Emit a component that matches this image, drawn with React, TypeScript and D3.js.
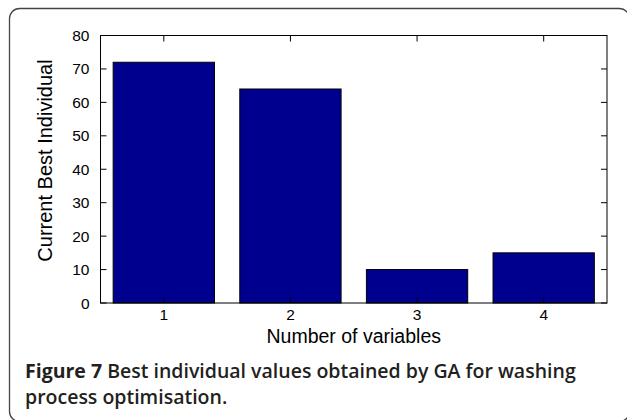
import React from "react";
import * as d3 from "d3";

const categories = [1, 2, 3, 4];
const values = [72, 64, 10, 15];
const yTicks = [0, 10, 20, 30, 40, 50, 60, 70, 80];

export default function App() {
  const W = 627, H = 420;
  const left = 100.5, right = 607, top = 35.5, bottom = 303;
  const x = d3.scaleLinear().domain([0.5, 4.5]).range([left, right]);
  const y = d3.scaleLinear().domain([0, 80]).range([bottom, top]);
  const bw = x(1.4) - x(0.6);
  const tl = 6;
  const axisFont = "'Liberation Sans', Arial, Helvetica, sans-serif";
  const capFont = "'Open Sans', 'Noto Sans', sans-serif";
  return (
    <svg width={W} height={H} style={{ position: "absolute", left: 0, top: 0, background: "#fff" }}>
      <rect x={9.5} y={8.5} width={620} height={413} rx={10} ry={10} fill="#fff" stroke="#444" strokeWidth={1.3} />
      {categories.map((c, i) => (
        <rect key={c} x={x(c) - bw / 2} y={y(values[i])} width={bw} height={y(0) - y(values[i])}
          fill="#00008F" stroke="#000" strokeWidth={1} />
      ))}
      <rect x={left} y={top} width={right - left} height={bottom - top} fill="none" stroke="#000" strokeWidth={1} />
      {categories.map((c) => (
        <g key={"xt" + c}>
          <line x1={x(c)} x2={x(c)} y1={bottom} y2={bottom - tl} stroke="#000" />
          <line x1={x(c)} x2={x(c)} y1={top} y2={top + tl} stroke="#000" />
          <text x={x(c)} y={bottom + 16.5} textAnchor="middle" fontFamily={axisFont} fontSize={15.5} fill="#000">{c}</text>
        </g>
      ))}
      {yTicks.map((t) => (
        <g key={"yt" + t}>
          <line x1={left} x2={left + tl} y1={y(t)} y2={y(t)} stroke="#000" />
          <line x1={right} x2={right - tl} y1={y(t)} y2={y(t)} stroke="#000" />
          <text x={left - 11} y={y(t) + 5.5} textAnchor="end" fontFamily={axisFont} fontSize={15.5} fill="#000">{t}</text>
        </g>
      ))}
      <text x={(left + right) / 2} y={343} textAnchor="middle" fontFamily={axisFont} fontSize={19.5} fill="#000">Number of variables</text>
      <text transform={`translate(52,160.5) rotate(-90)`} textAnchor="middle" fontFamily={axisFont} fontSize={20} fill="#000">Current Best Individual</text>
      <text x={25} y={378} fontFamily={capFont} fontSize={19.5} fill="#231f20" fontWeight={600}>
        <tspan fontWeight={700}>Figure 7</tspan> Best individual values obtained by GA for washing
      </text>
      <text x={25} y={404} fontFamily={capFont} fontSize={19.5} fill="#231f20" fontWeight={600}>process optimisation.</text>
    </svg>
  );
}
